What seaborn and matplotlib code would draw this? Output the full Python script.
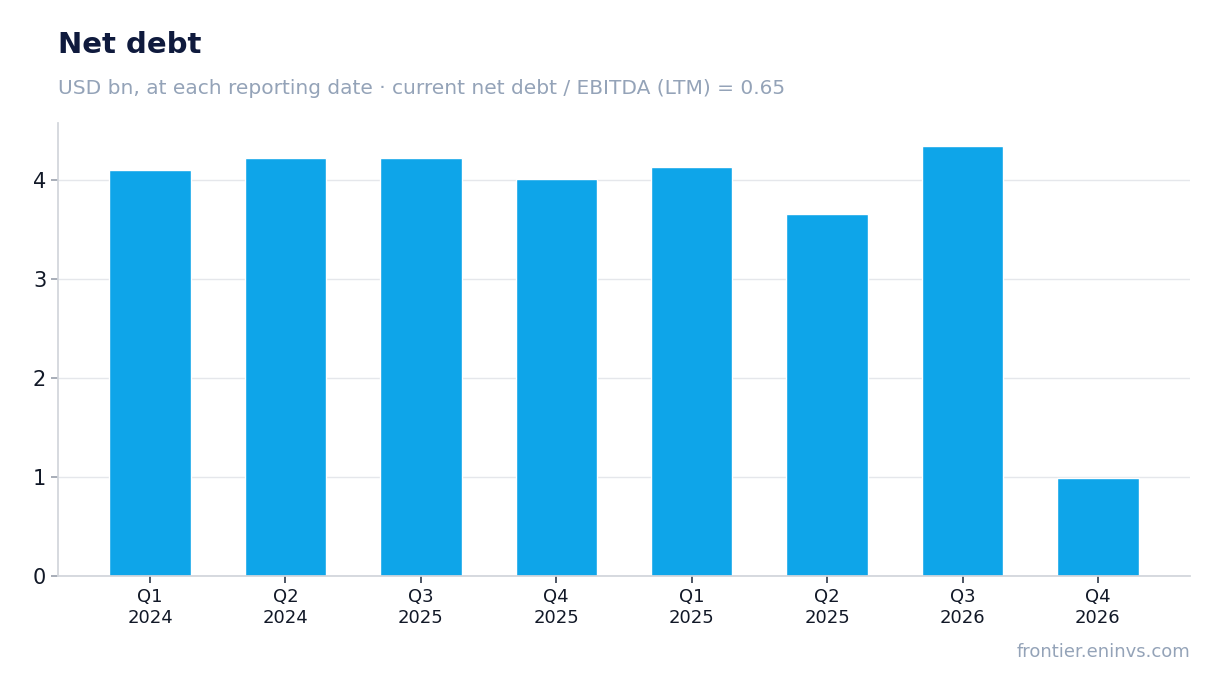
import matplotlib
matplotlib.use("Agg")
import matplotlib.pyplot as plt
import seaborn as sns
import pandas as pd

categories = ["Q1\n2024", "Q2\n2024", "Q3\n2025", "Q4\n2025", "Q1\n2025", "Q2\n2025", "Q3\n2026", "Q4\n2026"]
values = [4.10, 4.23, 4.23, 4.01, 4.14, 3.66, 4.35, 0.99]

sns.set_theme(style="white")
plt.rcParams['font.family'] = ['DejaVu Sans']

df = pd.DataFrame({"period": categories, "net_debt": values})
fig = plt.figure(figsize=(12.2, 6.93), dpi=100)
ax = fig.add_axes([58/1220, 1-576/693, (1190-58)/1220, (576-123)/693])
sns.barplot(data=df, x="period", y="net_debt", color="#0EA5E9", saturation=1, width=0.6, ax=ax, zorder=2)
ax.set_ylim(0, 4.58)
ax.set_xlim(-0.68, 7.68)
ax.set_yticks([0, 1, 2, 3, 4])
ax.grid(axis="y", color="#e5e7eb", linewidth=1, zorder=0)
ax.set_xlabel("")
ax.set_ylabel("")
for s in ["top", "right"]:
    ax.spines[s].set_visible(False)
for s in ["left", "bottom"]:
    ax.spines[s].set_color("#d1d5db")
ax.tick_params(axis="y", labelsize=15, colors="#111827", length=5, color="#9ca3af", left=True)
ax.tick_params(axis="x", labelsize=13, colors="#111827", length=5, color="#374151", bottom=True)
fig.text(58/1220, 1-45/693, "Net debt", fontsize=21, fontweight="bold", color="#0f1a3d", va="center")
fig.text(58/1220, 1-88/693, "USD bn, at each reporting date · current net debt / EBITDA (LTM) = 0.65",
         fontsize=14.5, color="#94a3b8", va="center")
fig.text(1190/1220, 1-652/693, "frontier.eninvs.com", fontsize=13, color="#94a3b8", va="center", ha="right")
fig.savefig("out.png", dpi=100)
